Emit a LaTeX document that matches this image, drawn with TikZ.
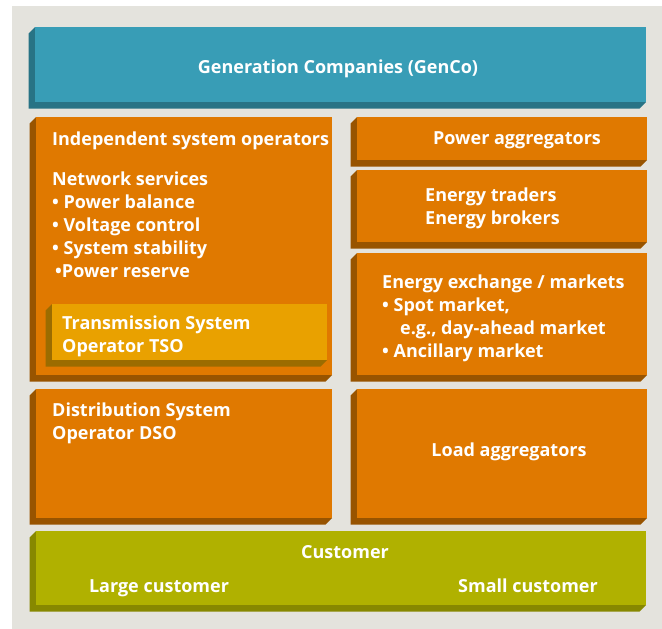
\documentclass[tikz,border=0pt]{standalone}
\usepackage{fontspec}
\setmainfont{Open Sans}
\usepackage{tikz}
\usetikzlibrary{positioning}
\definecolor{bgpanel}{RGB}{228,227,221}
\definecolor{gencoblue}{RGB}{56,157,182}
\definecolor{gencoside}{RGB}{40,115,133}
\definecolor{roleorange}{RGB}{224,121,0}
\definecolor{roleside}{RGB}{152,84,0}
\definecolor{tsoyellow}{RGB}{233,161,0}
\definecolor{tsoside}{RGB}{155,108,0}
\definecolor{custgreen}{RGB}{176,177,0}
\definecolor{custside}{RGB}{135,136,0}

% slab: name, x1, y1, x2, y2 (front face), face colour, side colour
\newcommand{\slab}[7]{%
  \fill[#7] (#2,#3) -- ++(-6.5,6.5) -- (#2-6.5,#5+6.5) -- (#4-6.5,#5+6.5) -- (#4,#5) -- (#2,#5) -- cycle;
  \node[slabface, fill=#6, minimum width=#4-#2, minimum height=#5-#3] (#1) at ({(#2+#4)/2},{(#3+#5)/2}) {};
}

\tikzset{
  slabface/.style={rectangle, inner sep=0pt, outer sep=0pt, draw=none},
  lbl/.style={text=white, font=\bfseries\fontsize{18}{23}\selectfont, inner sep=0pt, align=left},
}

\begin{document}
\begin{tikzpicture}[x=1pt, y=-1pt]
\useasboundingbox (0,0) rectangle (662,629);
\fill[white] (0,0) rectangle (662,629);
\fill[bgpanel] (12,6) rectangle (662,629);

% top row
\slab{genco}{35}{27}{646}{102}{gencoblue}{gencoside}
\node[lbl] (gencotxt) at (338,69) {Generation Companies (GenCo)};

% left column
\slab{iso}{36}{117}{332}{375}{roleorange}{roleside}
\node[lbl, anchor=west] (isotitle) at (52,141) {Independent system operators};
\node[lbl, anchor=west] (isoserv) at (52,225) {Network services\\
  • Power balance\\
  • Voltage control\\
  • System stability\\
  \hspace{3pt}•Power reserve};
\slab{tso}{52}{304}{327}{360}{tsoyellow}{tsoside}
\node[lbl, anchor=west] (tsotxt) at (62,336) {Transmission System\\Operator TSO};
\slab{dso}{36}{389}{332}{518}{roleorange}{roleside}
\node[lbl, anchor=west] (dsotxt) at (52,423) {Distribution System\\Operator DSO};

% right column
\slab{pagg}{357}{117}{647}{160}{roleorange}{roleside}
\node[lbl] (paggtxt) at (517,140) {Power aggregators};
\slab{trade}{357}{170}{647}{242}{roleorange}{roleside}
\node[lbl, anchor=west] (tradetxt) at (425,208) {Energy traders\\Energy brokers};
\slab{exch}{357}{253}{647}{375}{roleorange}{roleside}
\node[lbl, anchor=west] (exchtxt) at (382,318) {Energy exchange / markets\\
  • Spot market,\\
  \hspace{18pt}e.g., day-ahead market\\
  • Ancillary market};
\slab{lagg}{357}{389}{647}{518}{roleorange}{roleside}
\node[lbl] (laggtxt) at (509,452) {Load aggregators};

% bottom row
\slab{cust}{36}{531}{646}{605}{custgreen}{custside}
\node[lbl] (custtxt) at (345,552) {Customer};
\node[lbl, anchor=base] (largetxt) at (159,592) {Large customer};
\node[lbl, anchor=base] (smalltxt) at (528,592) {Small customer};
\end{tikzpicture}
\end{document}
